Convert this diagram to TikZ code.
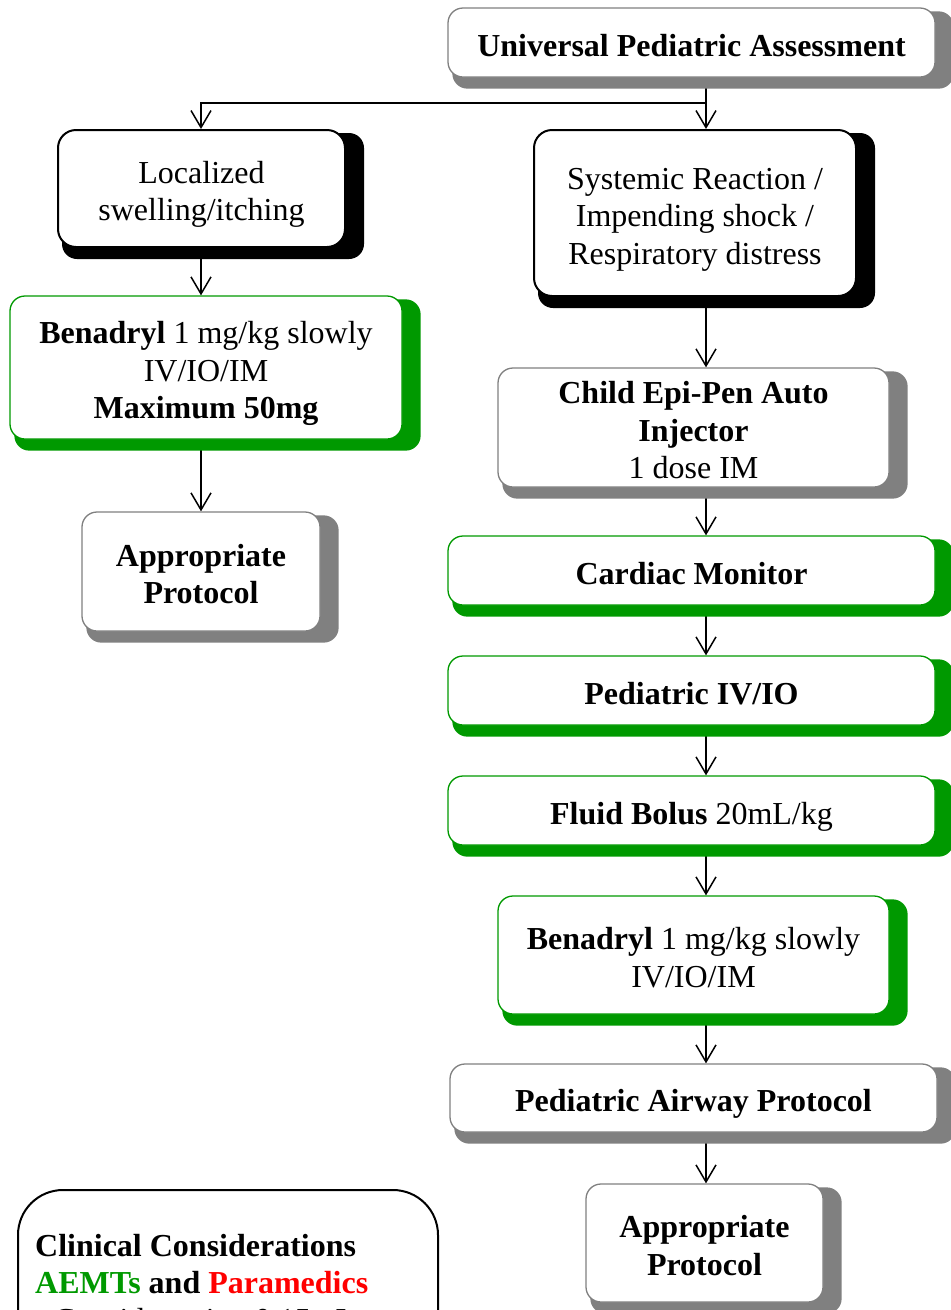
\documentclass[tikz,border=0pt]{standalone}
\usepackage{fontspec}
\setmainfont{Liberation Serif}
\usetikzlibrary{arrows.meta,calc}
\pgfdeclarelayer{conn}
\pgfdeclarelayer{shad}
\pgfsetlayers{conn,shad,main}
\definecolor{grn}{HTML}{009900}
\definecolor{shgray}{HTML}{808080}
\definecolor{pred}{HTML}{FF0000}
\newcommand\shadowof[2]{\fill[#1, rounded corners=15pt] ($(#2.north west)+(5,4)$) rectangle ($(#2.south east)+(18,11)$);}
\newcommand\bx[1]{\raisebox{-6pt}[\height][\depth]{\begin{tabular}{@{}c@{}}#1\end{tabular}}}
\begin{document}
\begin{tikzpicture}[x=1pt,y=-1pt,
  box/.style={draw, rounded corners=15pt, fill=white, inner sep=0pt,
    font=\fontsize{32}{37.5}\selectfont, line width=1.3pt},
  graybox/.style={box, draw=shgray},
  greenbox/.style={box, draw=grn},
  blackbox/.style={box, draw=black, line width=2pt, rounded corners=18pt},
  arr/.style={line width=1.5pt, -{Straight Barb[length=17pt,width=20pt]}}]
\useasboundingbox (0,0) rectangle (951,1310);

% boxes
\node[graybox, minimum width=487pt, minimum height=69pt] (ua) at (691.5,42.5) {\bx{\textbf{Universal Pediatric Assessment}}};
\node[blackbox, minimum width=287pt, minimum height=117pt] (loc) at (201.5,188.5) {\bx{Localized\\swelling/itching}};
\node[blackbox, minimum width=322pt, minimum height=166pt] (sys) at (695,213) {\bx{Systemic Reaction /\\Impending shock /\\Respiratory distress}};
\node[greenbox, minimum width=392pt, minimum height=143pt] (ben1) at (206,367.5) {\bx{\textbf{Benadryl} 1 mg/kg slowly\\IV/IO/IM\\\textbf{Maximum 50mg}}};
\node[graybox, minimum width=238pt, minimum height=119pt] (ap1) at (201,571.5) {\bx{\textbf{Appropriate}\\\textbf{Protocol}}};
\node[graybox, minimum width=391pt, minimum height=119pt] (epi) at (693.5,427.5) {\bx{\textbf{Child Epi-Pen Auto}\\\textbf{Injector}\\1 dose IM}};
\node[greenbox, minimum width=487pt, minimum height=69pt] (card) at (691.5,570.5) {\bx{\textbf{Cardiac Monitor}}};
\node[greenbox, minimum width=487pt, minimum height=69pt] (iv) at (691.5,690.5) {\bx{\textbf{Pediatric IV/IO}}};
\node[greenbox, minimum width=487pt, minimum height=69pt] (fluid) at (691.5,810.5) {\bx{\textbf{Fluid Bolus} 20mL/kg}};
\node[greenbox, minimum width=391pt, minimum height=118pt] (ben2) at (693.5,955) {\bx{\textbf{Benadryl} 1 mg/kg slowly\\IV/IO/IM}};
\node[graybox, minimum width=487pt, minimum height=68pt] (air) at (693.5,1098) {\bx{\textbf{Pediatric Airway Protocol}}};
\node[graybox, minimum width=237pt, minimum height=118pt] (ap2) at (704.5,1243) {\bx{\textbf{Appropriate}\\\textbf{Protocol}}};

% clinical considerations
\node[draw=black, line width=2pt, rounded corners=45pt, minimum width=420pt, minimum height=320pt, inner sep=0pt] (clin) at (228,1350) {};
\node[anchor=north west, align=left, inner sep=0pt, font=\fontsize{32}{37}\selectfont] (clintext) at (35,1234)
  {\textbf{Clinical Considerations}\\\textbf{\textcolor{grn}{AEMTs} and \textcolor{pred}{Paramedics}}\\- Consider using 0.15mL};

% shadows
\begin{pgfonlayer}{shad}
\shadowof{shgray}{ua}
\shadowof{black}{loc}
\shadowof{black}{sys}
\shadowof{grn}{ben1}
\shadowof{shgray}{ap1}
\shadowof{shgray}{epi}
\shadowof{grn}{card}
\shadowof{grn}{iv}
\shadowof{grn}{fluid}
\shadowof{grn}{ben2}
\shadowof{shgray}{air}
\shadowof{shgray}{ap2}
\end{pgfonlayer}

% connectors
\coordinate (col) at (706,0);
\coordinate (colL) at (201,0);
\coordinate (j) at (706,103);
\begin{pgfonlayer}{conn}
\draw[arr] (ua.south -| col) -- (sys.north -| col);
\draw[arr] (j) -| (loc.north -| colL);
\draw[arr] (loc.south -| colL) -- (ben1.north -| colL);
\draw[arr] (ben1.south -| colL) -- (ap1.north -| colL);
\draw[arr] (sys.south -| col) -- (epi.north -| col);
\draw[arr] (epi.south -| col) -- (card.north -| col);
\draw[arr] (card.south -| col) -- (iv.north -| col);
\draw[arr] (iv.south -| col) -- (fluid.north -| col);
\draw[arr] (fluid.south -| col) -- (ben2.north -| col);
\draw[arr] (ben2.south -| col) -- (air.north -| col);
\draw[arr] (air.south -| col) -- (ap2.north -| col);
\end{pgfonlayer}
\end{tikzpicture}
\end{document}
